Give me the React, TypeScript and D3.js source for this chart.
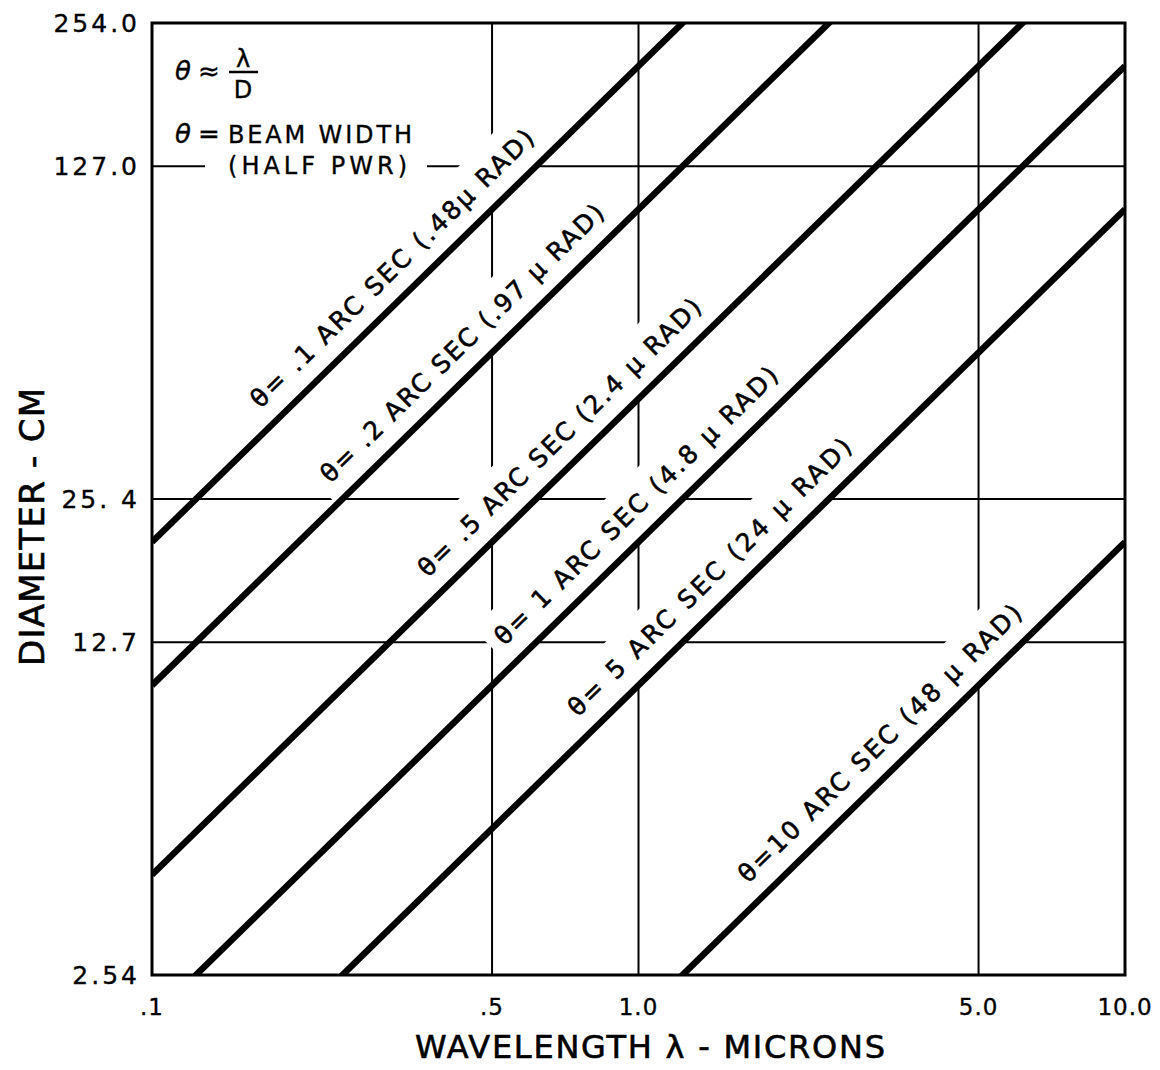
import React from 'react';
import * as d3 from 'd3';

// ---- data ----
const xTicks = [0.1, 0.5, 1, 5, 10];
const xTickLabels = ['.1', '.5', '1.0', '5.0', '10.0'];
const yTicks = [254, 127, 25.4, 12.7, 2.54];
const yTickLabels = ['254.0', '127.0', '25. 4', '12.7', '2.54'];
const xGrid = [0.5, 1, 5];
const yGrid = [127, 25.4, 12.7];
// beam widths (arc seconds) of the plotted lines, read from their positions
const beamArcSec = [0.1, 0.2, 0.5, 1, 2, 10];
const beamLabels = [
  'θ= .1 ARC SEC (.48µ RAD)',
  'θ= .2 ARC SEC (.97 µ RAD)',
  'θ= .5 ARC SEC (2.4 µ RAD)',
  'θ= 1 ARC SEC (4.8 µ RAD)',
  'θ= 5 ARC SEC (24 µ RAD)',
  'θ=10 ARC SEC (48 µ RAD)',
];
// wavelength (microns) at which each label starts along its line
const labelStartWavelength = [0.178, 0.248, 0.393, 0.565, 0.80, 1.79];
const xTitle = 'WAVELENGTH  λ - MICRONS';
const yTitle = 'DIAMETER - CM';

// D (cm) = λ (µm) / θ (rad) -> 20.626 * λ / θ(arcsec)
const CM_PER_MICRON_ARCSEC = 64.8 / Math.PI;
const diameter = (lambda: number, arcsec: number) => (CM_PER_MICRON_ARCSEC * lambda) / arcsec;

const W = 1160;
const H = 1070;
const left = 152, right = 1125, top = 23, bottom = 975;

export default function App() {
  const x = d3.scaleLog().domain([0.1, 10]).range([left, right]);
  const y = d3.scaleLog().domain([2.54, 254]).range([bottom, top]);
  const line = d3
    .line<[number, number]>()
    .x((d) => x(d[0]))
    .y((d) => y(d[1]));

  const p1x = x(1), p1y = y(diameter(1, 1));
  const p2x = x(10), p2y = y(diameter(10, 1));
  const angle = (Math.atan2(p2y - p1y, p2x - p1x) * 180) / Math.PI;

  const font = "'DejaVu Sans', 'Liberation Sans', sans-serif";
  const labelLen = 385;
  const heavy = { stroke: '#000', strokeWidth: 0.6 };
  const medium = { stroke: '#000', strokeWidth: 0.35 };

  return (
    <svg width={W} height={H} viewBox={`0 0 ${W} ${H}`} style={{ display: 'block', position: 'absolute', left: 0, top: 0, background: '#fff' }}>
      <defs>
        <clipPath id="plotClip">
          <rect x={left} y={top} width={right - left} height={bottom - top} />
        </clipPath>
      </defs>
      <rect x={0} y={0} width={W} height={H} fill="#fff" />
      {/* grid */}
      <g stroke="#000" strokeWidth={2}>
        {xGrid.map((v) => (
          <line key={'gx' + v} x1={x(v)} x2={x(v)} y1={top} y2={bottom} />
        ))}
        {yGrid.map((v) => (
          <line key={'gy' + v} x1={left} x2={right} y1={y(v)} y2={y(v)} />
        ))}
      </g>
      {/* line labels with white backing */}
      <g clipPath="url(#plotClip)">
        {beamArcSec.map((a, i) => {
          const lam = labelStartWavelength[i];
          const fx = x(lam);
          const fy = y(diameter(lam, a));
          return (
            <g key={'lab' + i} transform={`translate(${fx},${fy}) rotate(${angle})`}>
              <rect x={-10} y={-54} width={labelLen + 20} height={54} fill="#fff" />
              <text
                x={0}
                y={-19}
                fontFamily={font}
                fontSize={25}
                textLength={labelLen}
                lengthAdjust="spacing"
                fill="#000"
                {...heavy}
              >
                {beamLabels[i]}
              </text>
            </g>
          );
        })}
      </g>
      {/* legend */}
      <rect x={205} y={148} width={222} height={32} fill="#fff" />
      <g fontFamily={font} fill="#000" {...medium}>
        <text x={175} y={80} fontSize={26} fontStyle="italic">θ</text>
        <text x={198} y={80} fontSize={26}>≈</text>
        <text x={243} y={67} fontSize={24} textAnchor="middle">λ</text>
        <line x1={229} x2={258} y1={72} y2={72} stroke="#000" strokeWidth={2.5} />
        <text x={243} y={98} fontSize={24} textAnchor="middle">D</text>
        <text x={175} y={143} fontSize={26} fontStyle="italic">θ</text>
        <text x={198} y={143} fontSize={26}>=</text>
        <text x={228} y={143} fontSize={24} textLength={184} lengthAdjust="spacing">BEAM WIDTH</text>
        <text x={228} y={174} fontSize={24} textLength={179} lengthAdjust="spacing">(HALF PWR)</text>
      </g>
      {/* beam lines */}
      <g clipPath="url(#plotClip)">
        {beamArcSec.map((a) => (
          <path
            key={'ln' + a}
            d={line([
              [0.1, diameter(0.1, a)],
              [10, diameter(10, a)],
            ]) as string}
            fill="none"
            stroke="#000"
            strokeWidth={6.5}
          />
        ))}
      </g>
      {/* frame */}
      <rect x={left} y={top} width={right - left} height={bottom - top} fill="none" stroke="#000" strokeWidth={3} />
      {/* y tick labels */}
      <g fontFamily={font} fontSize={25} fill="#000" textAnchor="end" {...medium}>
        {yTicks.map((v, i) => (
          <text key={'yt' + v} x={140} y={y(v)} dy="0.36em" letterSpacing={3}>
            {yTickLabels[i]}
          </text>
        ))}
      </g>
      {/* x tick labels */}
      <g fontFamily={font} fontSize={23} fill="#000" textAnchor="middle" {...medium}>
        {xTicks.map((v, i) => (
          <text key={'xt' + v} x={x(v)} y={1015} letterSpacing={1}>
            {xTickLabels[i]}
          </text>
        ))}
      </g>
      {/* axis titles */}
      <text x={650} y={1058} fontFamily={font} fontSize={32} textAnchor="middle" textLength={470} lengthAdjust="spacing" fill="#000" {...heavy}>
        {xTitle}
      </text>
      <text
        transform="translate(44,527) rotate(-90)"
        fontFamily={font}
        fontSize={34}
        textAnchor="middle"
        textLength={278}
        lengthAdjust="spacing"
        fill="#000"
        {...heavy}
      >
        {yTitle}
      </text>
    </svg>
  );
}
